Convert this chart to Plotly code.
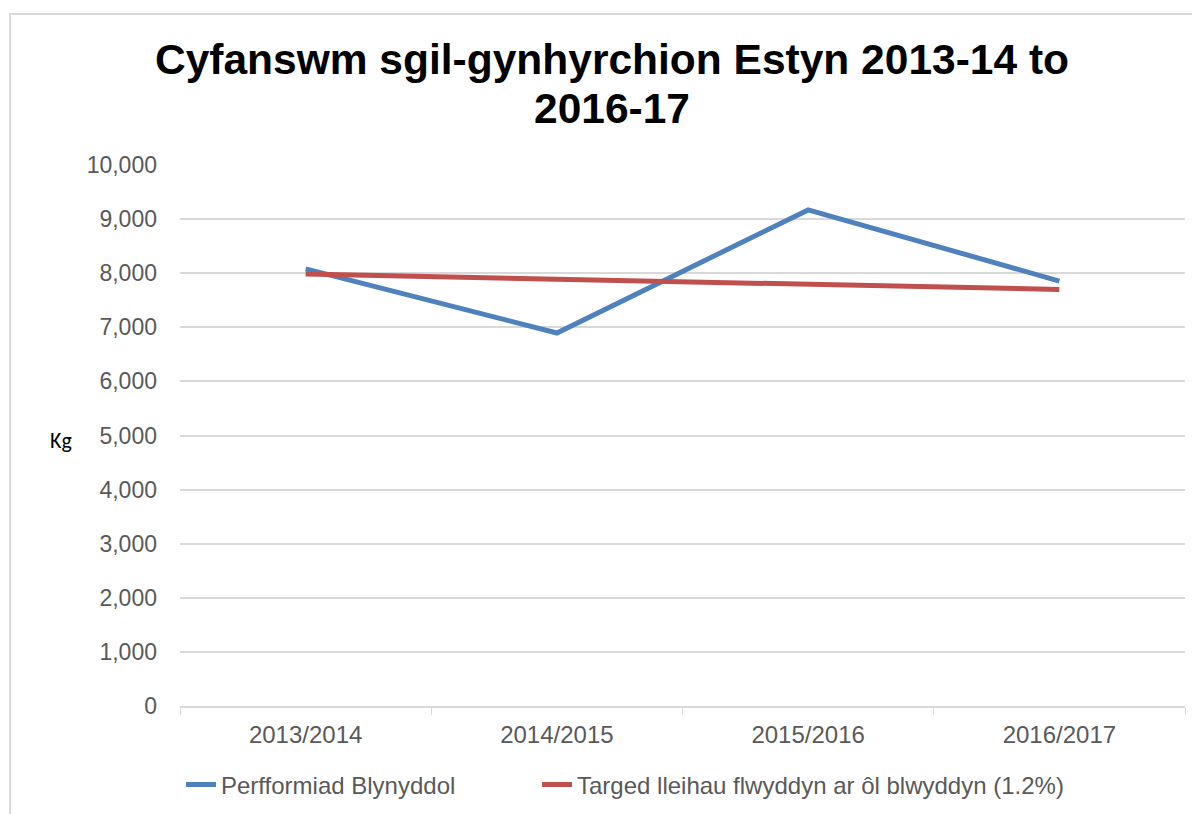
import plotly.graph_objects as go

categories = ["2013/2014", "2014/2015", "2015/2016", "2016/2017"]
performance = [8080, 6895, 9170, 7855]
target = [7985, 7890, 7795, 7700]
series_names = ["Perfformiad Blynyddol", "Targed lleihau flwyddyn ar ôl blwyddyn (1.2%)"]
title_lines = ["Cyfanswm sgil-gynhyrchion Estyn 2013-14 to", "2016-17"]
y_ticks = list(range(0, 10001, 1000))
y_tick_labels = [f"{v:,}" for v in y_ticks]

fig = go.Figure()
fig.add_trace(go.Scatter(x=categories, y=performance, mode="lines", name=series_names[0],
                         line=dict(color="#4F81BD", width=5), legend="legend"))
fig.add_trace(go.Scatter(x=categories, y=target, mode="lines", name=series_names[1],
                         line=dict(color="#C0504D", width=5), legend="legend2"))

# the page body adds an 8px offset; work in figure coordinates
OFF = 8
W, H = 1192, 806
L, R, T, B = 172, 15, 157, 108
pw, ph = W - L - R, H - T - B

def px_x(x):
    return (x - OFF - L) / pw

def px_y(y):
    return (H - B - (y - OFF)) / ph

legend_common = dict(orientation="h", xanchor="left", yanchor="middle",
                     font=dict(size=24, color="#595959"), bgcolor="rgba(0,0,0,0)")

fig.update_layout(
    width=W, height=H,
    margin=dict(l=L, r=R, t=T, b=B, autoexpand=False),
    paper_bgcolor="white", plot_bgcolor="white",
    font=dict(family="Liberation Sans, Arial", size=24, color="#595959"),
    xaxis=dict(type="category", range=[-0.5, 3.5], showgrid=False, showline=True,
               linecolor="#D9D9D9", linewidth=1.5, ticks="outside", tickson="boundaries",
               ticklen=7, tickcolor="#D9D9D9", tickfont=dict(size=24, color="#595959"),
               ticklabelstandoff=6, zeroline=False, automargin=False),
    yaxis=dict(range=[0, 10000], tickvals=y_ticks, ticktext=y_tick_labels,
               showgrid=True, gridcolor="#D9D9D9", gridwidth=1.5, zeroline=False,
               showline=False, ticks="", ticklabelstandoff=22, automargin=False,
               tickfont=dict(size=23, color="#595959")),
    legend=dict(x=px_x(181), y=px_y(785), **legend_common),
    legend2=dict(x=px_x(537), y=px_y(785), **legend_common),
    showlegend=True,
)

fig.add_annotation(text=title_lines[0], xref="paper", yref="paper", x=px_x(612), y=px_y(60),
                   xanchor="center", yanchor="middle", showarrow=False,
                   font=dict(family="Liberation Sans, Arial", size=42.5, color="black", weight="bold"))
fig.add_annotation(text=title_lines[1], xref="paper", yref="paper", x=px_x(612), y=px_y(108),
                   xanchor="center", yanchor="middle", showarrow=False,
                   font=dict(family="Liberation Sans, Arial", size=42.5, color="black", weight="bold"))

fig.add_annotation(text="Kg", xref="paper", yref="paper", x=px_x(61), y=px_y(440),
                   xanchor="center", yanchor="middle",
                   showarrow=False, font=dict(family="Carlito, Calibri, Liberation Sans", size=22, color="black"))

fig.add_shape(type="rect", xref="paper", yref="paper",
              x0=px_x(10), y0=px_y(840), x1=px_x(1230), y1=px_y(14),
              line=dict(color="#D9D9D9", width=2), fillcolor="rgba(0,0,0,0)", layer="below")

fig.write_html("out.html")
